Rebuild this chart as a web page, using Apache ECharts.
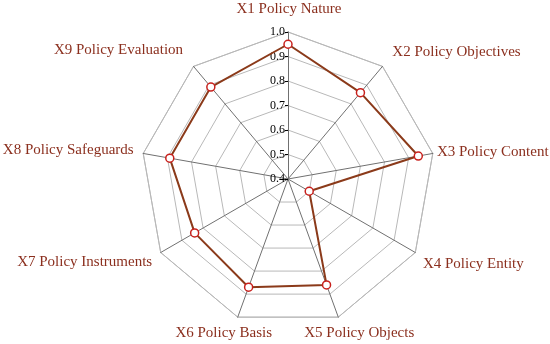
<!DOCTYPE html>
<html><head><meta charset="utf-8">
<script src="https://cdn.jsdelivr.net/npm/echarts@6/dist/echarts.min.js"></script>
<style>html,body{margin:0;padding:0;background:#fff}#c{width:550px;height:344px}</style>
</head><body><div id="c"></div>
<script>
// Clockwise order from top in the picture
const categories = ['X1 Policy Nature','X2 Policy Objectives','X3 Policy Content','X4 Policy Entity','X5 Policy Objects','X6 Policy Basis','X7 Policy Instruments','X8 Policy Safeguards','X9 Policy Evaluation'];
const values = [0.95, 0.86, 0.94, 0.50, 0.86, 0.87, 0.84, 0.89, 0.89];
const tickLabels = ['0.4','0.5','0.6','0.7','0.8','0.9','1.0'];
const axisMin = 0.4, axisMax = 1.0;

// label offsets (dx, dy) from each vertex, in px (layout only)
const labelShift = [[1,-23],[74,-14],[60,-1],[58,12],[21,16],[-14,16],[-76,10],[-75,-3],[-75,-16]];

// ECharts radar goes counter-clockwise; reverse (keeping first) to go clockwise
const order = [0,8,7,6,5,4,3,2,1];
const indicator = order.map(i => ({name: categories[i], min: axisMin, max: axisMax}));
const seriesVals = order.map(i => values[i]);

const rich = {};
categories.forEach((c, i) => {
  const [dx, dy] = labelShift[i];
  rich['l' + i] = {
    fontFamily: 'Liberation Serif', fontSize: 15, color: '#8b2f1e',
    padding: [dy > 0 ? 2*dy : 0, dx < 0 ? -2*dx : 0, dy < 0 ? -2*dy : 0, dx > 0 ? 2*dx : 0]
  };
});

const chart = echarts.init(document.getElementById('c'));
chart.setOption({
  animation: false,
  radar: {
    center: [288, 179], radius: 147, startAngle: 90, splitNumber: 6,
    shape: 'polygon', nameGap: 0,
    indicator: indicator,
    axisName: {
      align: 'center', verticalAlign: 'middle',
      formatter: (name) => '{l' + categories.indexOf(name) + '|' + name + '}',
      rich: rich
    },
    axisLine: {lineStyle: {color: '#707070', width: 1}},
    splitLine: {lineStyle: {color: '#b8b8b8', width: 1}},
    splitArea: {show: false},
    axisTick: {show: false},
    axisLabel: {show: false}
  },
  grid: {left: 288, top: 32, height: 147, width: 1},
  xAxis: {type: 'value', show: false},
  yAxis: {
    type: 'value', min: axisMin, max: axisMax, interval: 0.1,
    axisLine: {show: false}, splitLine: {show: false},
    axisTick: {show: true, length: 3, inside: false, lineStyle: {color: '#000'}},
    axisLabel: {margin: 3, color: '#000', fontFamily: 'Liberation Serif', fontSize: 12,
      formatter: (v) => tickLabels[Math.round((v - axisMin) * 10)] || ''}
  },
  series: [{
    type: 'radar',
    symbol: 'circle', symbolSize: 8,
    lineStyle: {color: '#8b3a1a', width: 2},
    itemStyle: {color: '#fff', borderColor: '#c8201c', borderWidth: 1.5},
    data: [{value: seriesVals}]
  }]
});
</script></body></html>
